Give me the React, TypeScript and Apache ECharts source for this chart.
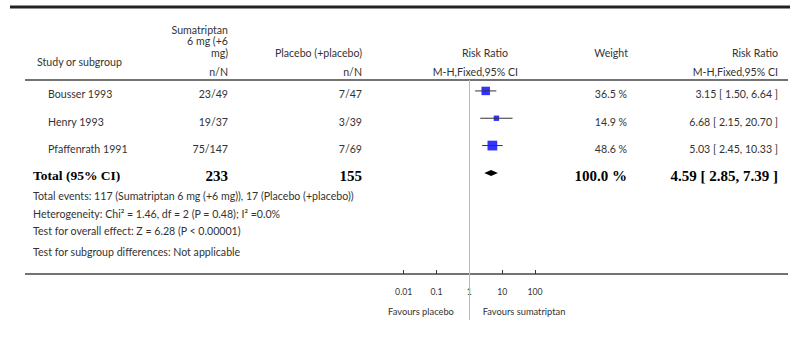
import React, { useEffect, useRef } from "react";
import * as echarts from "echarts";

const studies = ["Bousser 1993", "Henry 1993", "Pfaffenrath 1991"];
const treatEvents = [23, 19, 75];
const treatTotal = [49, 37, 147];
const ctrlEvents = [7, 3, 7];
const ctrlTotal = [47, 39, 69];
const riskRatio = [3.15, 6.68, 5.03];
const ciLow = [1.5, 2.15, 2.45];
const ciHigh = [6.64, 20.7, 10.33];
const weights = [36.5, 14.9, 48.6];
const totalRR = 4.59;
const totalLow = 2.85;
const totalHigh = 7.39;
const totalWeight = 100.0;
const tickValues = [0.01, 0.1, 1, 10, 100];
const tickLabels = ["0.01", "0.1", "1", "10", "100"];
const footerLines = [
  "Heterogeneity: Chi\u00b2 = 1.46, df = 2 (P = 0.48); I\u00b2 =0.0%",
  "Test for overall effect: Z = 6.28 (P < 0.00001)",
  "Test for subgroup differences: Not applicable",
];

const SANS = "Lato, 'Open Sans', sans-serif";
const SERIF = "'Liberation Serif', 'DejaVu Serif', serif";
const TXT = "#333";
const FS = 10.6;

const GRID_TOP = 80;
const AXIS_Y = 274;
const VLINE_BOTTOM = 320;
const ROW_H = 27.32;
const Y_MIN = -0.4;
const PLOT_LEFT = 403.7;
const PLOT_RIGHT = 255;
const rowY = (i: number) => GRID_TOP + (i - Y_MIN) * ROW_H;

function txt(text: string, x: number, y: number, align: string, opts: any = {}) {
  return {
    type: "text",
    x,
    y,
    silent: true,
    style: {
      text,
      fill: opts.fill || TXT,
      fontSize: opts.fontSize || FS,
      fontFamily: opts.fontFamily || SANS,
      fontWeight: opts.fontWeight || "normal",
      align,
      verticalAlign: "middle",
    },
  };
}

function hline(x1: number, x2: number, y: number, w: number, c: string) {
  return { type: "line", silent: true, shape: { x1, y1: y, x2, y2: y }, style: { stroke: c, lineWidth: w } };
}

export default function App() {
  const ref = useRef<HTMLDivElement>(null);
  useEffect(() => {
    if (!ref.current) return;
    const chart = echarts.init(ref.current, undefined, { renderer: "svg" });
    const fmt = (v: number) => v.toFixed(2);
    const sum = (a: number[]) => a.reduce((s, v) => s + v, 0);
    const n = studies.length;

    const graphics: any[] = [];
    graphics.push(hline(10, 790, 7, 3, "#222"));
    graphics.push(hline(25, 788, GRID_TOP, 1.5, "#444"));
    graphics.push(hline(25, 788, AXIS_Y, 1.5, "#444"));

    // header
    graphics.push(txt("Study or subgroup", 37, 62, "left"));
    graphics.push(txt("Sumatriptan", 228, 29.5, "right"));
    graphics.push(txt("6 mg (+6", 228, 41, "right"));
    graphics.push(txt("mg)", 228, 52.5, "right"));
    graphics.push(txt("n/N", 228, 71.5, "right"));
    graphics.push(txt("Placebo (+placebo)", 362, 53, "right"));
    graphics.push(txt("n/N", 362, 71.5, "right"));
    graphics.push(txt("Risk Ratio", 508, 52.5, "right"));
    graphics.push(txt("M-H,Fixed,95% CI", 518, 71.5, "right"));
    graphics.push(txt("Weight", 628, 52.5, "right"));
    graphics.push(txt("Risk Ratio", 778, 52.5, "right"));
    graphics.push(txt("M-H,Fixed,95% CI", 778, 71.5, "right"));

    // rows
    for (let i = 0; i < n; i++) {
      const y = rowY(i) + 3.5;
      graphics.push(txt(studies[i], 48, y, "left"));
      graphics.push(txt(`${treatEvents[i]}/${treatTotal[i]}`, 228, y, "right"));
      graphics.push(txt(`${ctrlEvents[i]}/${ctrlTotal[i]}`, 362, y, "right"));
      graphics.push(txt(`${weights[i].toFixed(1)} %`, 627, y, "right"));
      graphics.push(txt(`${fmt(riskRatio[i])} [ ${fmt(ciLow[i])}, ${fmt(ciHigh[i])} ]`, 778, y, "right"));
    }
    const ty = rowY(n) + 3;
    const boldLabel = { fontFamily: SERIF, fontWeight: "bold", fontSize: 13.5, fill: "#000" };
    const boldNum = { fontFamily: SERIF, fontWeight: "bold", fontSize: 15, fill: "#000" };
    graphics.push(txt("Total (95% CI)", 33, ty, "left", boldLabel));
    graphics.push(txt(String(sum(treatTotal)), 228, ty, "right", boldNum));
    graphics.push(txt(String(sum(ctrlTotal)), 362, ty, "right", boldNum));
    graphics.push(txt(`${totalWeight.toFixed(1)} %`, 627, ty, "right", boldNum));
    graphics.push(txt(`${fmt(totalRR)} [ ${fmt(totalLow)}, ${fmt(totalHigh)} ]`, 778, ty, "right", boldNum));

    // footer
    graphics.push(
      txt(
        `Total events: ${sum(treatEvents)} (Sumatriptan 6 mg (+6 mg)), ${sum(ctrlEvents)} (Placebo (+placebo))`,
        33,
        196,
        "left"
      )
    );
    const fy = [213.5, 231, 251.5];
    footerLines.forEach((s, k) => graphics.push(txt(s, 33, fy[k], "left")));

    graphics.push(txt("Favours placebo", 421, 311, "center", { fontSize: 9.3 }));
    graphics.push(txt("Favours sumatriptan", 524, 311, "center", { fontSize: 9.3 }));

    const ciData = studies.map((_, i) => [ciLow[i], ciHigh[i], i]);
    const ptData = studies.map((_, i) => [riskRatio[i], i, weights[i]]);
    const yMax = Y_MIN + (AXIS_Y - GRID_TOP) / ROW_H;

    const vRef = {
      silent: true,
      symbol: "none",
      label: { show: false },
      lineStyle: { color: "#bbb", width: 1, type: "solid" },
      data: [{ xAxis: 1 }],
    };

    chart.setOption({
      animation: false,
      backgroundColor: "#fff",
      grid: [
        { left: PLOT_LEFT, right: PLOT_RIGHT, top: GRID_TOP, bottom: 345 - AXIS_Y },
        { left: PLOT_LEFT, right: PLOT_RIGHT, top: AXIS_Y, bottom: 345 - VLINE_BOTTOM },
      ],
      xAxis: [
        {
          type: "log",
          logBase: 10,
          min: 0.01,
          max: 100,
          gridIndex: 0,
          position: "bottom",
          axisLine: { show: false, onZero: false },
          axisTick: { show: true, inside: true, length: 4, lineStyle: { color: "#333" } },
          minorTick: { show: false },
          splitLine: { show: false },
          axisLabel: {
            margin: 13,
            fontSize: 8.7,
            fontFamily: SANS,
            color: TXT,
            formatter: (v: number) => {
              const k = tickValues.findIndex((t) => Math.abs(Math.log10(t) - Math.log10(v)) < 1e-6);
              return k >= 0 ? tickLabels[k] : "";
            },
          },
        },
        {
          type: "log",
          logBase: 10,
          min: 0.01,
          max: 100,
          gridIndex: 1,
          show: false,
          axisLine: { onZero: false },
        },
      ],
      yAxis: [
        { type: "value", min: Y_MIN, max: yMax, inverse: true, show: false, gridIndex: 0 },
        { type: "value", min: 0, max: 1, show: false, gridIndex: 1 },
      ],
      series: [
        {
          type: "scatter",
          xAxisIndex: 0,
          yAxisIndex: 0,
          data: ptData,
          symbol: "rect",
          symbolSize: (v: number[]) => Math.sqrt(v[2]) * 1.4,
          itemStyle: { color: "#0000ff" },
          z: 2,
          silent: true,
          markLine: { ...vRef, z: 1 },
        },
        {
          type: "line",
          xAxisIndex: 1,
          yAxisIndex: 1,
          data: [],
          silent: true,
          markLine: vRef,
        },
        {
          type: "custom",
          xAxisIndex: 0,
          yAxisIndex: 0,
          data: ciData,
          encode: { x: [0, 1], y: 2 },
          z: 3,
          silent: true,
          renderItem: (params: any, api: any) => {
            const a = api.coord([api.value(0), api.value(2)]);
            const b = api.coord([api.value(1), api.value(2)]);
            return {
              type: "line",
              shape: { x1: a[0], y1: a[1], x2: b[0], y2: b[1] },
              style: { stroke: "#333", lineWidth: 1 },
            };
          },
        },
        {
          type: "custom",
          xAxisIndex: 0,
          yAxisIndex: 0,
          data: [[totalLow, totalRR, totalHigh, n]],
          encode: { x: [0, 2], y: 3 },
          z: 3,
          silent: true,
          renderItem: (params: any, api: any) => {
            const yv = api.value(3);
            const l = api.coord([api.value(0), yv]);
            const m = api.coord([api.value(1), yv]);
            const r = api.coord([api.value(2), yv]);
            const h = 3;
            return {
              type: "polygon",
              shape: { points: [[l[0], l[1]], [m[0], m[1] - h], [r[0], r[1]], [m[0], m[1] + h]] },
              style: { fill: "#000" },
            };
          },
        },
      ],
      graphic: graphics,
    });
    return () => chart.dispose();
  }, []);
  return (
    <div
      ref={ref}
      style={{ position: "absolute", left: 0, top: 0, width: 790, height: 345, background: "#fff" }}
    />
  );
}
